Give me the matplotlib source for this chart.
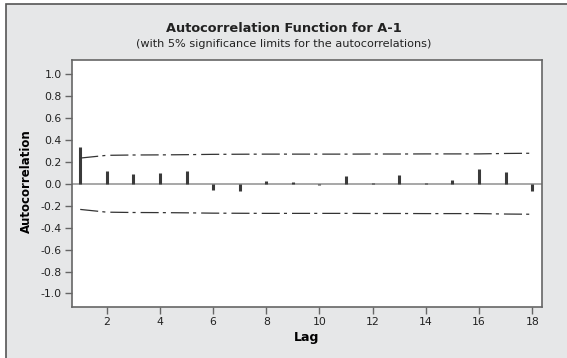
import matplotlib
matplotlib.use('Agg')
import matplotlib.pyplot as plt
from matplotlib.patches import Rectangle

# values
lags = list(range(1, 19))
acf = [0.334, 0.112, 0.085, 0.100, 0.119, -0.055, -0.064, 0.021, 0.012,
       -0.012, 0.067, 0.005, 0.076, 0.009, 0.030, 0.131, 0.103, -0.067]
upper = [0.234, 0.259, 0.262, 0.263, 0.265, 0.268, 0.269, 0.270, 0.270,
         0.270, 0.270, 0.271, 0.271, 0.272, 0.272, 0.272, 0.276, 0.278]
lower = [-u for u in upper]
yticks = [1.0, 0.8, 0.6, 0.4, 0.2, 0.0, -0.2, -0.4, -0.6, -0.8, -1.0]
xticks = [2, 4, 6, 8, 10, 12, 14, 16, 18]

plt.rcParams['font.family'] = 'DejaVu Sans'
plt.rcParams['lines.scale_dashes'] = False
plt.rcParams['axes.unicode_minus'] = False

fig = plt.figure(figsize=(5.67, 3.58), dpi=100)
fig.patch.set_facecolor('white')
# grey panel with a frame, cut off at right and bottom like the scan
fig.patches.append(Rectangle((6/567, -0.05), 1.1, (354/358) + 0.05,
                             transform=fig.transFigure, facecolor='#e6e7e8',
                             edgecolor='#555555', linewidth=1.2, zorder=-5))

ax = fig.add_axes([71.7/567, (358-307.2)/358, (542-71.7)/567, (307.2-60.3)/358])
ax.set_zorder(2)
ax.set_facecolor('white')

ax.axhline(0, color='#a0a0a0', linewidth=1.3, zorder=1)
ax.vlines(lags, 0, acf, colors='#3a3a3a', linewidth=2.2, capstyle='butt', zorder=2)
dash = (0, (13, 3, 2.2, 3.6))
ax.plot(lags, upper, color='#333333', linewidth=0.9, linestyle=dash, zorder=3)
ax.plot(lags, lower, color='#333333', linewidth=0.9, linestyle=dash, zorder=3)

ax.set_xlim(0.68, 18.37)
ax.set_ylim(-1.125, 1.125)
ax.set_xticks(xticks)
ax.set_yticks(yticks)
ax.set_yticklabels(['%.1f' % v for v in yticks])
ax.tick_params(direction='out', length=5, width=1, color='#666666',
               labelsize=7.8, labelcolor='#222222', pad=2)
for s in ax.spines.values():
    s.set_color('#666666')
    s.set_linewidth(1.2)

ax.set_xlabel('Lag', fontsize=9, fontweight='bold', labelpad=3)
fig.text(26/567, 1 - 181/358, 'Autocorrelation', rotation=90, fontsize=8.5,
         fontweight='bold', ha='center', va='center')
fig.text(0.5, 1 - 28/358, 'Autocorrelation Function for A-1', fontsize=9.3,
         fontweight='bold', ha='center', va='center', color='#222222')
fig.text(0.5, 1 - 44/358, '(with 5% significance limits for the autocorrelations)',
         fontsize=8.1, ha='center', va='center', color='#222222')

fig.savefig('out.png', dpi=100)
